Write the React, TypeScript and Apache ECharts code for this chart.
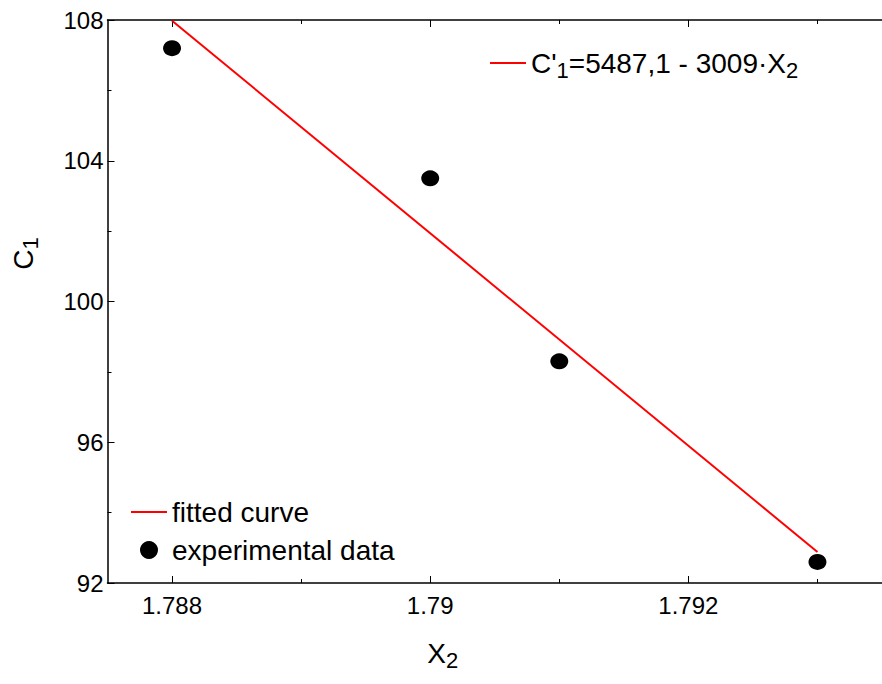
import React, { useEffect, useRef } from "react";
import * as echarts from "echarts";

const xMajorTicks = [1.788, 1.79, 1.792];
const xMinorTicks = [1.789, 1.791, 1.793];
const expX = [1.788, 1.79, 1.791, 1.793];
const expY = [107.2, 103.5, 98.3, 92.6];
const fitX = [1.788, 1.793];
const fitY = [107.98, 92.88];

const FONT = "Liberation Sans, Arial, sans-serif";
const FORMULA = "C'1=5487,1 - 3009·X2";

const rich = {
  n: { fontSize: 28, lineHeight: 36, color: "#000", fontFamily: FONT },
  s: { fontSize: 22, lineHeight: 22, verticalAlign: "bottom", color: "#000", fontFamily: FONT },
};

export default function App() {
  const ref = useRef<HTMLDivElement>(null);
  useEffect(() => {
    document.body.style.margin = "0";
    const chart = echarts.init(ref.current!, null, { renderer: "svg" });
    const xMin = 1.7875;
    const xMax = 1.7935;
    const baseX = {
      type: "value",
      min: xMin,
      max: xMax,
      splitLine: { show: false },
    };
    chart.setOption({
      animation: false,
      backgroundColor: "#fff",
      grid: { left: 107.5, top: 20, right: -10, bottom: 101, containLabel: false },
      xAxis: [
        {
          ...baseX,
          position: "bottom",
          axisLine: { show: true, lineStyle: { color: "#000", width: 1.5 } },
          axisTick: { show: true, inside: true, length: 7, customValues: xMajorTicks, lineStyle: { color: "#000", width: 1 } },
          axisLabel: { show: true, customValues: xMajorTicks, fontSize: 24, color: "#000", fontFamily: FONT, margin: 10 },
          name: "{n|X}{s|2}",
          nameLocation: "middle",
          nameGap: 52,
          nameTextStyle: { rich, padding: [0, 104, 0, 0] },
        },
        {
          ...baseX,
          position: "bottom",
          axisLine: { show: false },
          axisTick: { show: true, inside: true, length: 4, customValues: xMinorTicks, lineStyle: { color: "#000", width: 1 } },
          axisLabel: { show: false },
        },
        {
          ...baseX,
          position: "top",
          axisLine: { show: true, lineStyle: { color: "#000", width: 1.5 } },
          axisTick: { show: true, inside: true, length: 7, customValues: xMajorTicks, lineStyle: { color: "#000", width: 1 } },
          axisLabel: { show: false },
        },
        {
          ...baseX,
          position: "top",
          axisLine: { show: false },
          axisTick: { show: true, inside: true, length: 4, customValues: xMinorTicks, lineStyle: { color: "#000", width: 1 } },
          axisLabel: { show: false },
        },
      ],
      yAxis: [
        {
          type: "value",
          min: 92,
          max: 108,
          interval: 4,
          splitLine: { show: false },
          axisLine: { show: true, lineStyle: { color: "#000", width: 1.5 } },
          axisTick: { show: true, inside: true, length: 7, lineStyle: { color: "#000", width: 1 } },
          minorTick: { show: true, splitNumber: 2, length: 4, lineStyle: { color: "#000", width: 1 } },
          axisLabel: { fontSize: 24, color: "#000", fontFamily: FONT, margin: 4 },
          name: "{n|C}{s|1}",
          nameLocation: "middle",
          nameGap: 66,
          nameRotate: 90,
          nameTextStyle: { rich, padding: [0, 0, 0, 96] },
        },
      ],
      legend: [
        {
          data: [{ name: FORMULA, itemStyle: { opacity: 0 } }],
          left: 484,
          top: 44,
          itemWidth: 36,
          itemHeight: 18,
          itemGap: 8,
          formatter: () => "{n|C'}{s|1}{n|=5487,1 - 3009·X}{s|2}",
          textStyle: { rich },
        },
        {
          data: [
            { name: "fitted curve", itemStyle: { opacity: 0 } },
            { name: "experimental data", icon: "circle" },
          ],
          orient: "vertical",
          left: 125,
          top: 491,
          itemWidth: 36,
          itemHeight: 18,
          itemGap: 6,
          textStyle: { fontSize: 28, color: "#000", fontFamily: FONT, lineHeight: 32 },
        },
      ],
      series: [
        {
          name: "fitted curve",
          type: "line",
          xAxisIndex: 0,
          symbol: "none",
          lineStyle: { color: "#ff0000", width: 2 },
          itemStyle: { color: "#ff0000" },
          data: fitX.map((x, i) => [x, fitY[i]]),
        },
        {
          name: FORMULA,
          type: "line",
          xAxisIndex: 0,
          symbol: "none",
          lineStyle: { color: "#ff0000", width: 2 },
          itemStyle: { color: "#ff0000" },
          data: [],
        },
        {
          name: "experimental data",
          type: "scatter",
          xAxisIndex: 0,
          symbol: "circle",
          symbolSize: [18, 16],
          itemStyle: { color: "#000", opacity: 1 },
          data: expX.map((x, i) => [x, expY[i]]),
        },
      ],
    });
    return () => chart.dispose();
  }, []);
  return <div ref={ref} style={{ width: 882, height: 684 }} />;
}
